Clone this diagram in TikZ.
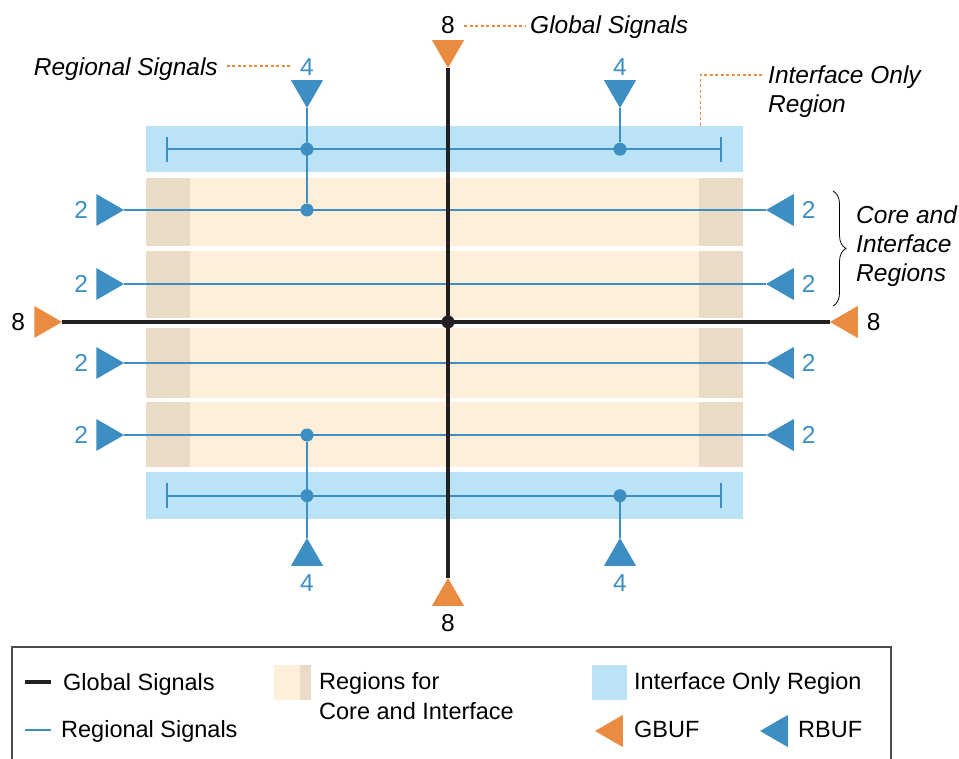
\documentclass[tikz,border=0pt]{standalone}
\usepackage{fontspec}
\setmainfont{Liberation Sans}
\usetikzlibrary{positioning, shapes.geometric, arrows.meta, decorations.pathreplacing}
\definecolor{gbufcol}{HTML}{E98B40}
\definecolor{rbufcol}{HTML}{3D8EC3}
\definecolor{ifcol}{HTML}{BAE3F8}
\definecolor{corecol}{HTML}{FDEFD9}
\definecolor{edgecol}{HTML}{E9DBC5}
\definecolor{globcol}{HTML}{231F20}
\tikzset{
	every node/.style={
		align=center,
	},
	buf/.style={regular polygon, regular polygon sides=3, minimum size=37pt, inner sep=0pt, outer sep=0pt},
	gbuf/.style={buf, fill=gbufcol},
	rbuf/.style={buf, fill=rbufcol},
	glob/.style={draw=globcol, line width=3.2pt},
	regl/.style={draw=rbufcol, line width=2pt},
	tap/.style={circle, fill=rbufcol, inner sep=0pt, minimum size=13pt},
	leader/.style={draw=gbufcol, line width=1.6pt, dash pattern=on 3pt off 2.5pt},
	num/.style={font=\fontsize{24.5}{29}\selectfont, inner sep=0pt},
	tag/.style={font=\fontsize{24.5}{29}\selectfont\itshape, inner sep=0pt, align=left},
	legtext/.style={font=\fontsize{23.5}{30}\selectfont, inner sep=0pt, align=left},
}
\begin{document}
\begin{tikzpicture}[x=1pt, y=-1pt]
    \useasboundingbox (0,0) rectangle (959,759);

    \node[fill=ifcol, minimum width=597pt, minimum height=46pt, inner sep=0pt, anchor=north west] (ifup) at (146,126) {};
    \node[fill=ifcol, minimum width=597pt, minimum height=47pt, inner sep=0pt, anchor=north west] (iflow) at (146,472) {};
    \foreach \ya/\yb in {178/246, 251/318, 328/398, 402/467} {
        \fill[corecol] (146,\ya) rectangle (743,\yb);
        \fill[edgecol] (146,\ya) rectangle (190,\yb);
        \fill[edgecol] (699,\ya) rectangle (743,\yb);
    }

    \foreach \y [count=\i] in {210,284,363,435} {
        \node[rbuf, shape border rotate=-90, anchor=corner 1] (rl\i) at (124,\y) {};
        \node[rbuf, shape border rotate=90, anchor=corner 1] (rr\i) at (766,\y) {};
        \node[num, rbufcol, left=8pt of rl\i] (nl\i) {2};
        \node[num, rbufcol, right=8pt of rr\i] (nr\i) {2};
        \draw[regl] (rl\i.corner 1) -- (rr\i.corner 1);
    }

    \draw[regl, {Bar[width=25pt]}-{Bar[width=25pt]}] ([xshift=20pt]ifup.west) -- ([xshift=-21pt]ifup.east);
    \draw[regl, {Bar[width=25pt]}-{Bar[width=25pt]}] ([xshift=20pt]iflow.west) -- ([xshift=-21pt]iflow.east);

    \node[rbuf, shape border rotate=180, anchor=corner 1] (rt1) at (307,108) {};
    \node[rbuf, shape border rotate=180, anchor=corner 1] (rt2) at (620,108) {};
    \node[rbuf, anchor=corner 1] (rb1) at (307,538) {};
    \node[rbuf, anchor=corner 1] (rb2) at (620,538) {};
    \node[num, rbufcol, above=5pt of rt1] (nt1) {4};
    \node[num, rbufcol, above=5pt of rt2] (nt2) {4};
    \node[num, rbufcol, below=9pt of rb1] (nb1) {4};
    \node[num, rbufcol, below=9pt of rb2] (nb2) {4};

    \node[tap] (tapa) at (rt1.corner 1 |- ifup.west) {};
    \node[tap] (tapb) at (rt2.corner 1 |- ifup.west) {};
    \node[tap] (tapc) at (rt1.corner 1 |- rl1.corner 1) {};
    \node[tap] (tapd) at (rb1.corner 1 |- rl4.corner 1) {};
    \node[tap] (tape) at (rb1.corner 1 |- iflow.west) {};
    \node[tap] (tapf) at (rb2.corner 1 |- iflow.west) {};
    \draw[regl] (rt1.corner 1) -- (tapc);
    \draw[regl] (rt2.corner 1) -- (tapb);
    \draw[regl] (rb1.corner 1) -- (tapd);
    \draw[regl] (rb2.corner 1) -- (tapf);

    \node[gbuf, shape border rotate=180, anchor=corner 1] (gtop) at (448,68) {};
    \node[gbuf, anchor=corner 1] (gbot) at (448,578) {};
    \node[gbuf, shape border rotate=-90, anchor=corner 1] (gleft) at (62,322) {};
    \node[gbuf, shape border rotate=90, anchor=corner 1] (gright) at (830,322) {};
    \draw[glob] (gtop.corner 1) -- (gbot.corner 1);
    \draw[glob] (gleft.corner 1) -- (gright.corner 1);
    \node[circle, fill=globcol, inner sep=0pt, minimum size=13pt] (gmid) at (448,322) {};
    \node[num, above=6pt of gtop] (ntop) {8};
    \node[num, below=8pt of gbot] (nbot) {8};
    \node[num, left=9pt of gleft] (nleft) {8};
    \node[num, right=9pt of gright] (nright) {8};

    \node[tag, anchor=base west] (globtag) at ([xshift=75pt]ntop.base east) {Global Signals};
    \coordinate (globa) at ([xshift=9pt,yshift=8pt]ntop.base east);
    \coordinate (globb) at ([xshift=-5pt,yshift=8pt]globtag.base west);
    \draw[leader] (globa) -- (globb);
    \node[tag, anchor=base east] (regtag) at ([xshift=-82pt]nt1.base west) {Regional Signals};
    \draw[leader, shorten <=9pt, shorten >=10pt] ([yshift=9pt]regtag.base east) -- ([yshift=9pt]nt1.base west);
    \node[tag, anchor=north west] (iftag) at (768,66) {Interface Only\\Region};
    \draw[leader, shorten >=4pt] ([xshift=-43pt]ifup.north east) |- ([yshift=-9pt]iftag.north west);
    \coordinate (bracetop) at (833,191);
    \coordinate (bracebot) at (833,306);
    \draw[decorate, decoration={brace, amplitude=13pt}, line width=0.8pt] (bracetop) -- (bracebot);
    \node[tag, anchor=north west] (coretag) at (856,206) {Core and\\Interface\\Regions};

    \draw[line width=1.3pt, draw=black!70] (12,647) rectangle (891,790);
    \node[legtext, anchor=base west] (lgglob) at (63,690) {Global Signals};
    \node[legtext, anchor=base west] (lgreg) at (61,737) {Regional Signals};
    \draw[glob] ([xshift=-12pt,yshift=8pt]lgglob.base west) -- ++(-26pt,0);
    \draw[regl] ([xshift=-10pt,yshift=7pt]lgreg.base west) -- ++(-26pt,0);
    \fill[corecol] (274,665) rectangle (300,700);
    \fill[edgecol] (300,665) rectangle (311,700);
    \node[legtext, anchor=north west] (lgcore) at (319,672) {Regions for\\Core and Interface};
    \fill[ifcol] (592,665) rectangle (627,700);
    \node[legtext, anchor=base west] (lgif) at (634,689) {Interface Only Region};
    \node[gbuf, shape border rotate=90, anchor=corner 1] (lggbuf) at (595,731) {};
    \node[legtext, anchor=base west] (lggtxt) at (634,737) {GBUF};
    \node[rbuf, shape border rotate=90, anchor=corner 1] (lgrbuf) at (760,731) {};
    \node[legtext, anchor=base west] (lgrtxt) at (798,737) {RBUF};
\end{tikzpicture}
\end{document}
